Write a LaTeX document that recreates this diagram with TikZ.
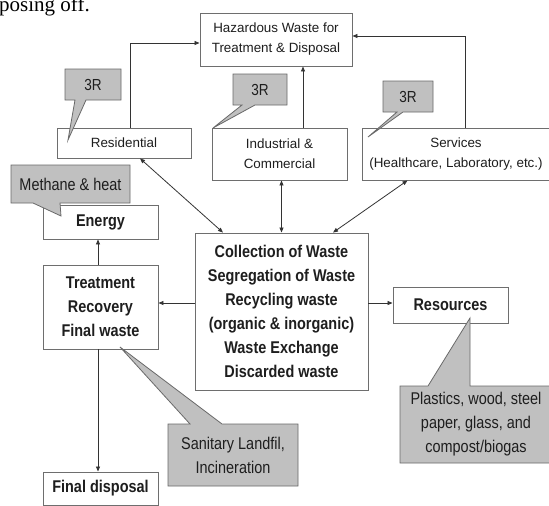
\documentclass[tikz,border=0pt]{standalone}
\usepackage{fontspec}
\setmainfont{Liberation Sans}
\newfontfamily\condf{Liberation Sans}[FakeStretch=0.85]
\newfontfamily\refserif{Liberation Serif}
\usetikzlibrary{arrows.meta,calc}
\definecolor{callfill}{RGB}{192,192,192}
\definecolor{callline}{RGB}{105,105,105}
\definecolor{boxline}{RGB}{110,110,110}
\definecolor{txt}{RGB}{30,30,30}
\tikzset{
 box/.style={draw=boxline, line width=0.9pt, fill=white, inner sep=0pt, align=center, text=txt},
 smalltxt/.style={font=\fontsize{13.4}{20}\selectfont},
 bigtxt/.style={font=\condf\bfseries\fontsize{17}{24}\selectfont},
 calltext/.style={font=\condf\fontsize{17}{24}\selectfont, text=txt, align=center, inner sep=0pt},
 calltextsm/.style={calltext, font=\condf\fontsize{16}{20}\selectfont},
 callshape/.style={fill=callfill, draw=callline, line width=0.8pt, line join=miter},
 conn/.style={draw=black!80, line width=0.8pt},
 arr/.style={conn, -{Triangle[length=5pt,width=4pt]}},
 darr/.style={conn, {Triangle[length=5pt,width=4pt]}-{Triangle[length=5pt,width=4pt]}},
}
\begin{document}
\begin{tikzpicture}[x=1pt,y=-1pt]
\clip (0,0) rectangle (549,506);
\fill[white] (0,0) rectangle (549,506);
% fragment of running text (cut off at the top, as in the reference)
\node[font=\refserif\fontsize{21}{21}\selectfont, anchor=base west, inner sep=0pt, text=black] (frag) at (-1,11) {posing off.};
% boxes
\node[box,smalltxt,minimum width=152pt,minimum height=53pt] (haz) at (276,39.5) {Hazardous Waste for\\Treatment \& Disposal};
\node[box,smalltxt,minimum width=134pt,minimum height=30pt] (res) at (124,143) {Residential};
\node[box,smalltxt,minimum width=135pt,minimum height=52pt] (ind) at (279.5,154) {Industrial \&\\Commercial};
\node[box,smalltxt,minimum width=188pt,minimum height=52pt] (ser) at (456,154) {Services\\(Healthcare, Laboratory, etc.)};
\node[box,bigtxt,minimum width=115pt,minimum height=34pt] (en) at (100.5,222) {Energy};
\node[box,bigtxt,minimum width=115pt,minimum height=84pt] (tr) at (100.5,307) {Treatment\\Recovery\\Final waste};
\node[box,bigtxt,minimum width=173pt,minimum height=157pt] (col) at (281.5,311.5) {Collection of Waste\\Segregation of Waste\\Recycling waste\\(organic \& inorganic)\\Waste Exchange\\Discarded waste};
\node[box,bigtxt,minimum width=115pt,minimum height=36pt] (resr) at (450.5,305) {Resources};
\node[box,bigtxt,minimum width=115pt,minimum height=33pt] (fin) at (100.5,488.5) {Final disposal};
% connectors
\draw[arr] ([xshift=6pt]res.north) |- ([yshift=-3.5pt]haz.west);
\draw[arr] ([xshift=9.5pt]ser.north) |- ([yshift=3.5pt]haz.east);
\draw[arr] ([xshift=23.5pt]ind.north) -- ([xshift=23.5pt]ind.north |- haz.south);
\draw[darr] ([xshift=16pt]res.south) -- ([xshift=-58.5pt]col.north);
\draw[darr] (col.north) -- (col.north |- ind.south);
\draw[darr] ([xshift=-48.5pt]ser.south) -- ([xshift=51.5pt]col.north);
\draw[arr] ([yshift=8.5pt]col.west) -- ([yshift=8.5pt]col.west -| tr.east);
\draw[arr] ([yshift=8.5pt]col.east) -- ([yshift=8.5pt]col.east -| resr.west);
\draw[arr] ([xshift=-2.5pt]tr.north) -- ([xshift=-2.5pt]en.south);
\draw[arr] ([xshift=-2.5pt]tr.south) -- ([xshift=-2.5pt]fin.north);
% callouts
\draw[callshape] (65,69) -- (121,69) -- (121,100) -- (86,100) -- (68,140) -- (75,100) -- (65,100) -- cycle;
\node[calltextsm] (c1) at (93,84.5) {3R};
\draw[callshape] (233,74) -- (287,74) -- (287,105) -- (255,105) -- (213,128) -- (242,105) -- (233,105) -- cycle;
\node[calltextsm] (c2) at (260,89.5) {3R};
\draw[callshape] (383,81) -- (433,81) -- (433,112) -- (403,112) -- (368,137) -- (397,112) -- (383,112) -- cycle;
\node[calltextsm] (c3) at (408,96.5) {3R};
\draw[callshape] (11,165) -- (130,165) -- (130,203) -- (60,203) -- (61,216) -- (33,203) -- (11,203) -- cycle;
\node[calltext] (meth) at (70.5,184) {Methane \& heat};
\draw[callshape] (168,424) -- (190,424) -- (120,347) -- (222,424) -- (298,424) -- (298,486) -- (168,486) -- cycle;
\node[calltext] (san) at (233,455) {Sanitary Landfil,\\Incineration};
\draw[callshape] (400,386) -- (428,386) -- (470,318) -- (470,386) -- (552,386) -- (552,463) -- (400,463) -- cycle;
\node[calltext] (pla) at (476,424.5) {Plastics, wood, steel\\paper, glass, and\\compost/biogas};
\end{tikzpicture}
\end{document}
